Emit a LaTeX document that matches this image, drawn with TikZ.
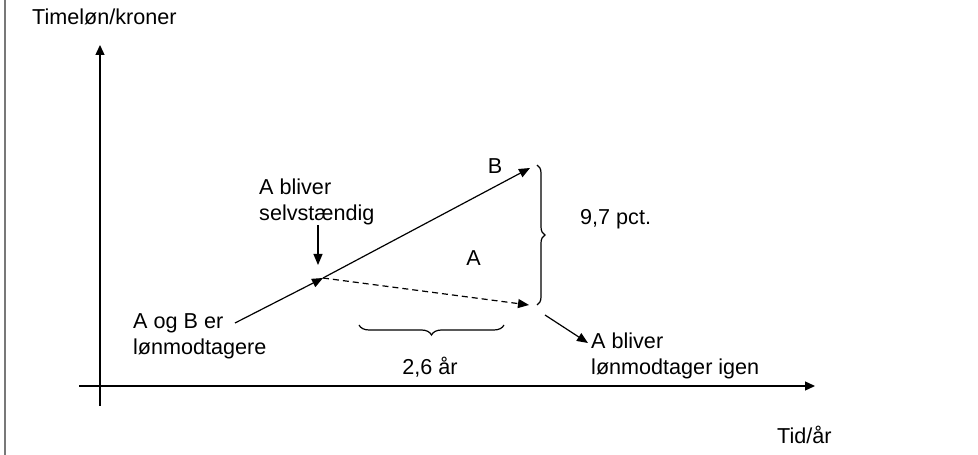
\documentclass[tikz,border=0pt]{standalone}
\usepackage{fontspec}
\setmainfont{Liberation Sans}
\usetikzlibrary{arrows.meta,positioning,calc,decorations.pathreplacing}
\definecolor{framegray}{RGB}{120,120,120}

\begin{document}
\begin{tikzpicture}[x=10pt,y=10pt,
	every node/.style={font=\fontsize{21.6pt}{26pt}\selectfont,inner sep=0pt},
	axis/.style={line width=1.3pt,-{Triangle[length=10pt,width=9pt]}},
	move/.style={line width=1.2pt,-{Triangle[length=11pt,width=9pt]}},
	bracket/.style={line width=1.2pt,decorate,decoration={brace,amplitude=#1}}]
	\useasboundingbox (0,0) rectangle (97.8,45.5);
	
	% left frame edge
	\draw[framegray,line width=2pt] (0.5,0) -- (0.5,45.5);
	
	% axes
	\coordinate (yfoot) at (10,4.9);
	\coordinate (ytop) at (10,41.0);
	\coordinate (xfoot) at (7.9,6.9);
	\coordinate (xend) at (81.5,6.9);
	\draw[axis] (yfoot) -- (ytop);
	\draw[axis] (xfoot) -- (xend);
	\node[anchor=base west] (ylab) at (3.2,43.0) {Timeløn/kroner};
	\node[anchor=base west] (xlab) at (77.7,1.1) {Tid/år};
	
	% wage paths
	\coordinate (start) at (23.5,13.2);
	\coordinate (switch) at (32.3,17.7);
	\coordinate (endB) at (53.0,28.7);
	\coordinate (endA) at (52.9,15.0);
	\draw[move] (start) -- (switch);
	\draw[move] (switch) -- (endB);
	\draw[move,dash pattern=on 6pt off 4pt] (switch) -- (endA);
	\node (labB) at (49.5,28.85) {B};
	\node (labA) at (47.35,19.65) {A};
	
	% braces
	\draw[bracket=8pt] (53.7,29.0) -- (53.7,15.0);
	\draw[bracket=10pt] (50.4,13.0) -- (35.9,13.0);
	\node[anchor=base west] (pct) at (58.0,23.0) {9,7 pct.};
	\node[anchor=base] (years) at (43.0,8.0) {2,6 år};
	
	% annotations
	\node[anchor=base west,align=left] (both) at (13.3,10.0) {A og B er\\lønmodtagere};
	\node[anchor=base west,align=left] (selv) at (25.9,23.4) {A bliver\\selvstændig};
	\node[anchor=base west,align=left] (igen) at (59.1,8.0) {A bliver\\lønmodtager igen};
	\coordinate (selvTop) at (31.8,23.0);
	\coordinate (selvTip) at (31.8,19.0);
	\coordinate (igenFrom) at (54.5,14.0);
	\coordinate (igenTip) at (58.8,11.2);
	\draw[move] (selvTop) -- (selvTip);
	\draw[move] (igenFrom) -- (igenTip);
\end{tikzpicture}
\end{document}
